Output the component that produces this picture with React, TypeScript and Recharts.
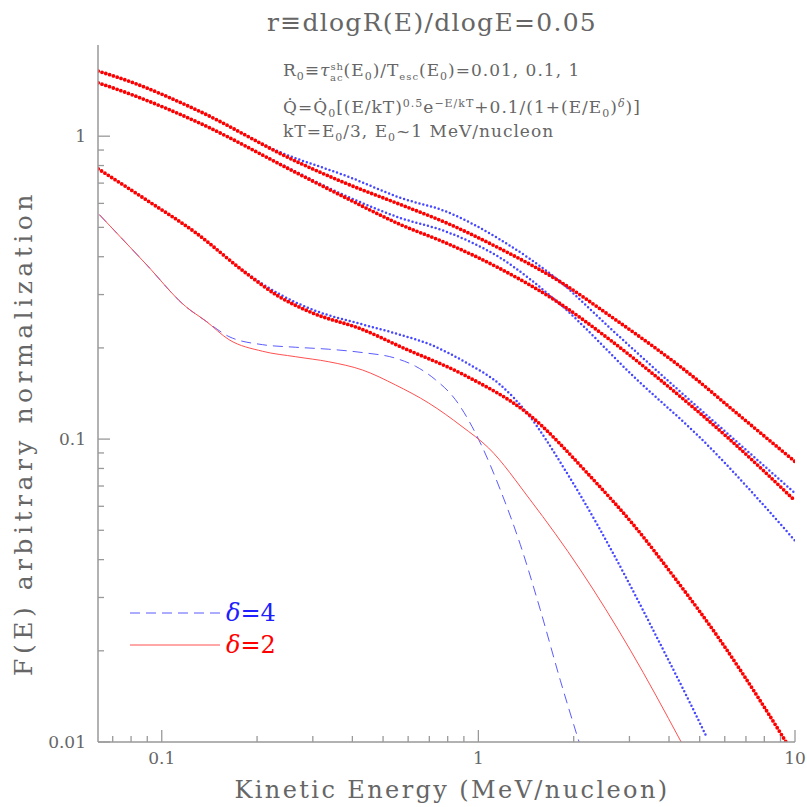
import { LineChart, Line, XAxis, YAxis } from "recharts";

// energies (MeV/nucleon) and F(E) values
const blue1E = [0.063, 0.08, 0.128, 0.234, 0.395, 0.567, 0.787, 1.17, 1.81, 2.6, 3.94, 6.24, 10];
const blue1F = [1.64, 1.51, 1.225, 0.89, 0.73, 0.626, 0.565, 0.456, 0.331, 0.233, 0.157, 0.1025, 0.0663];

const blue2E = [0.063, 0.08, 0.128, 0.234, 0.395, 0.567, 0.787, 1.17, 1.775, 3.17, 5.02, 10];
const blue2F = [1.5, 1.374, 1.12, 0.815, 0.625, 0.537, 0.485, 0.397, 0.284, 0.157, 0.101, 0.0462];

const blue3E = [0.063, 0.089, 0.128, 0.184, 0.234, 0.299, 0.431, 0.567, 0.706, 0.921, 1.173, 1.424, 1.905, 2.425, 2.91, 3.75, 4.67, 5.28];
const blue3F = [0.78, 0.618, 0.48, 0.355, 0.302, 0.2676, 0.239, 0.221, 0.205, 0.178, 0.151, 0.122, 0.0772, 0.0502, 0.0353, 0.0211, 0.0134, 0.0103];

const red1E = [0.063, 0.08, 0.128, 0.265, 0.38, 0.567, 0.787, 1.173, 1.81, 2.6, 4.9, 6.24, 10];
const red1F = [1.64, 1.51, 1.225, 0.827, 0.7, 0.595, 0.519, 0.425, 0.331, 0.2556, 0.157, 0.127, 0.0843];

const red2E = [0.063, 0.08, 0.128, 0.265, 0.38, 0.567, 0.787, 1.173, 1.775, 2.6, 3.75, 6.24, 10];
const red2F = [1.5, 1.374, 1.12, 0.759, 0.627, 0.511, 0.445, 0.365, 0.284, 0.2129, 0.157, 0.0995, 0.0626];

const red3E = [0.063, 0.089, 0.128, 0.184, 0.234, 0.299, 0.431, 0.567, 0.921, 1.424, 2.285, 3.09, 4.18, 5.8, 7.76, 9.37];
const red3F = [0.78, 0.618, 0.48, 0.354, 0.296, 0.261, 0.23, 0.202, 0.161, 0.122, 0.0743, 0.0521, 0.0347, 0.0217, 0.0137, 0.01];

const dashedE = [0.0635, 0.089, 0.119, 0.138, 0.163, 0.208, 0.265, 0.337, 0.431, 0.547, 0.633, 0.732, 0.846, 0.955, 1.027, 1.173, 1.357, 1.569, 1.814, 2.08];
const dashedF = [0.551, 0.379, 0.274, 0.245, 0.218, 0.205, 0.201, 0.198, 0.193, 0.185, 0.174, 0.157, 0.135, 0.11, 0.0945, 0.068, 0.0448, 0.0273, 0.016, 0.01];

const solidE = [0.0635, 0.089, 0.119, 0.138, 0.163, 0.208, 0.265, 0.337, 0.431, 0.547, 0.697, 0.888, 1.078, 1.458, 2.1, 3.02, 4.37];
const solidF = [0.551, 0.379, 0.274, 0.245, 0.213, 0.195, 0.187, 0.18, 0.169, 0.151, 0.1315, 0.11, 0.0934, 0.063, 0.037, 0.0201, 0.01];

const xTicks = [0.07, 0.08, 0.09, 0.1, 0.2, 0.3, 0.4, 0.5, 0.6, 0.7, 0.8, 0.9, 1, 2, 3, 4, 5, 6, 7, 8, 9, 10];
const yTicks = [0.01, 0.02, 0.03, 0.04, 0.05, 0.06, 0.07, 0.08, 0.09, 0.1, 0.2, 0.3, 0.4, 0.5, 0.6, 0.7, 0.8, 0.9, 1];

const zip = (e: number[], f: number[]) => e.map((x, i) => ({ e: x, f: f[i] }));

const GRAY = "#999";
const TXT = "#666";
const FONT = "DejaVu Serif";

const isMajor = (v: number) => Math.abs(Math.log10(v) - Math.round(Math.log10(v))) < 1e-6;

function makeTick(side: "bottom" | "top" | "left" | "right") {
  return (props: any) => {
    const { x, y, payload } = props;
    const v = payload.value;
    const major = isMajor(v);
    const len = major ? 12 : 6;
    let line;
    let label = null;
    if (side === "bottom") {
      line = <line x1={x} y1={y} x2={x} y2={y - len} stroke={GRAY} strokeWidth={1.3} />;
      if (major)
        label = (
          <text x={x} y={y + 22} textAnchor="middle" fontSize={17} fill={TXT} fontFamily={FONT}>
            {String(v)}
          </text>
        );
    } else if (side === "top") {
      line = <line x1={x} y1={y} x2={x} y2={y + len} stroke={GRAY} strokeWidth={1.3} />;
    } else if (side === "left") {
      line = <line x1={x} y1={y} x2={x + len} y2={y} stroke={GRAY} strokeWidth={1.3} />;
      if (major)
        label = (
          <text x={x - 12} y={y + 6} textAnchor="end" fontSize={17} fill={TXT} fontFamily={FONT}>
            {String(v)}
          </text>
        );
    } else {
      line = <line x1={x} y1={y} x2={x - len} y2={y} stroke={GRAY} strokeWidth={1.3} />;
    }
    return (
      <g>
        {line}
        {label}
      </g>
    );
  };
}

const dotted = (color: string, w: number) => ({
  stroke: color,
  strokeWidth: w,
  strokeDasharray: "0 4",
  strokeLinecap: "round" as const,
});

export default function App() {
  return (
    <div style={{ position: "absolute", left: 0, top: 0, width: 807, height: 807, background: "#fff" }}>
      <LineChart width={807} height={807} margin={{ top: 45, right: 12, bottom: 0, left: 0 }}>
        <XAxis
          xAxisId="b"
          dataKey="e"
          type="number"
          scale="log"
          domain={[0.0629, 10]}
          allowDataOverflow
          ticks={xTicks}
          interval={0}
          height={65}
          tickSize={0}
          tickMargin={0}
          tick={makeTick("bottom")}
          axisLine={{ stroke: GRAY, strokeWidth: 1.5 }}
        />
        <XAxis
          xAxisId="t"
          orientation="top"
          dataKey="e"
          type="number"
          scale="log"
          domain={[0.0629, 10]}
          allowDataOverflow
          ticks={xTicks}
          interval={0}
          height={0}
          tickSize={0}
          tickMargin={0}
          tick={makeTick("top")}
          axisLine={{ stroke: GRAY, strokeWidth: 1.5 }}
        />
        <YAxis
          yAxisId="l"
          dataKey="f"
          type="number"
          scale="log"
          domain={[0.01, 2]}
          allowDataOverflow
          ticks={yTicks}
          interval={0}
          width={98}
          tickSize={0}
          tickMargin={0}
          tick={makeTick("left")}
          axisLine={{ stroke: GRAY, strokeWidth: 1.5 }}
        />
        <YAxis
          yAxisId="r"
          orientation="right"
          dataKey="f"
          type="number"
          scale="log"
          domain={[0.01, 2]}
          allowDataOverflow
          ticks={yTicks}
          interval={0}
          width={0}
          tickSize={0}
          tickMargin={0}
          tick={makeTick("right")}
          axisLine={{ stroke: GRAY, strokeWidth: 1.5 }}
        />

        <Line xAxisId="b" yAxisId="l" data={zip(dashedE, dashedF)} dataKey="f" type="monotone" dot={false}
          stroke="#5b5bff" strokeWidth={1} strokeDasharray="10 6" isAnimationActive={false} />
        <Line xAxisId="b" yAxisId="l" data={zip(solidE, solidF)} dataKey="f" type="monotone" dot={false}
          stroke="#ff5050" strokeWidth={1} isAnimationActive={false} />

        <Line xAxisId="b" yAxisId="l" data={zip(blue1E, blue1F)} dataKey="f" type="monotone" dot={false}
          {...dotted("#4848ff", 2.5)} isAnimationActive={false} />
        <Line xAxisId="b" yAxisId="l" data={zip(blue2E, blue2F)} dataKey="f" type="monotone" dot={false}
          {...dotted("#4848ff", 2.5)} isAnimationActive={false} />
        <Line xAxisId="b" yAxisId="l" data={zip(blue3E, blue3F)} dataKey="f" type="monotone" dot={false}
          {...dotted("#4848ff", 2.5)} isAnimationActive={false} />

        <Line xAxisId="b" yAxisId="l" data={zip(red1E, red1F)} dataKey="f" type="monotone" dot={false}
          {...dotted("#ff0000", 3.8)} isAnimationActive={false} />
        <Line xAxisId="b" yAxisId="l" data={zip(red2E, red2F)} dataKey="f" type="monotone" dot={false}
          {...dotted("#ff0000", 3.8)} isAnimationActive={false} />
        <Line xAxisId="b" yAxisId="l" data={zip(red3E, red3F)} dataKey="f" type="monotone" dot={false}
          {...dotted("#ff0000", 3.8)} isAnimationActive={false} />
      </LineChart>

      <svg
        width={807}
        height={807}
        style={{ position: "absolute", left: 0, top: 0, pointerEvents: "none" }}
        fontFamily={FONT}
        fill={TXT}
      >
        <text x={432} y={31} textAnchor="middle" fontSize={25} letterSpacing={1.3}>
          r≡dlogR(E)/dlogE=0.05
        </text>

        <g fontSize={17} letterSpacing={1}>
          <text x={283} y={76}>
            R<tspan dy={4} fontSize={11}>0</tspan>
            <tspan dy={-4}>≡</tspan>
            <tspan fontStyle="italic">τ</tspan>
            <tspan dy={-6} fontSize={10}>sh</tspan>
            <tspan dx={-14} dy={11} fontSize={10}>ac</tspan>
            <tspan dy={-5}>(E</tspan>
            <tspan dy={4} fontSize={11}>0</tspan>
            <tspan dy={-4}>)/T</tspan>
            <tspan dy={4} fontSize={10}>esc</tspan>
            <tspan dy={-4}>(E</tspan>
            <tspan dy={4} fontSize={11}>0</tspan>
            <tspan dy={-4}>)=0.01, 0.1, 1</tspan>
          </text>

          <text x={283} y={113}>
            Q̇=Q̇<tspan dy={4} fontSize={11}>0</tspan>
            <tspan dy={-4}>[(E/kT)</tspan>
            <tspan dy={-6} fontSize={11}>0.5</tspan>
            <tspan dy={6}>e</tspan>
            <tspan dy={-6} fontSize={11}>−E/kT</tspan>
            <tspan dy={6}>+0.1/(1+(E/E</tspan>
            <tspan dy={4} fontSize={11}>0</tspan>
            <tspan dy={-4}>)</tspan>
            <tspan dy={-6} fontSize={11} fontStyle="italic">δ</tspan>
            <tspan dy={6}>)]</tspan>
          </text>

          <text x={283} y={137}>
            kT=E<tspan dy={4} fontSize={11}>0</tspan>
            <tspan dy={-4}>/3, E</tspan>
            <tspan dy={4} fontSize={11}>0</tspan>
            <tspan dy={-4}>~1 MeV/nucleon</tspan>
          </text>
        </g>

        <text x={452} y={798} textAnchor="middle" fontSize={24} letterSpacing={2.4}>
          Kinetic Energy (MeV/nucleon)
        </text>

        <text x={32} y={433} textAnchor="middle" fontSize={25} letterSpacing={4.5} transform="rotate(-90 32 433)">
          F(E)  arbitrary normalization
        </text>

        <line x1={130} y1={613} x2={220} y2={613} stroke="#5b5bff" strokeWidth={1} strokeDasharray="10 6" />
        <text x={226} y={621} fontSize={24} fill="#2020ff">
          <tspan fontStyle="italic">δ</tspan>=4
        </text>
        <line x1={130} y1={645} x2={220} y2={645} stroke="#ff5050" strokeWidth={1} />
        <text x={226} y={653} fontSize={24} fill="#ff0000">
          <tspan fontStyle="italic">δ</tspan>=2
        </text>
      </svg>
    </div>
  );
}
